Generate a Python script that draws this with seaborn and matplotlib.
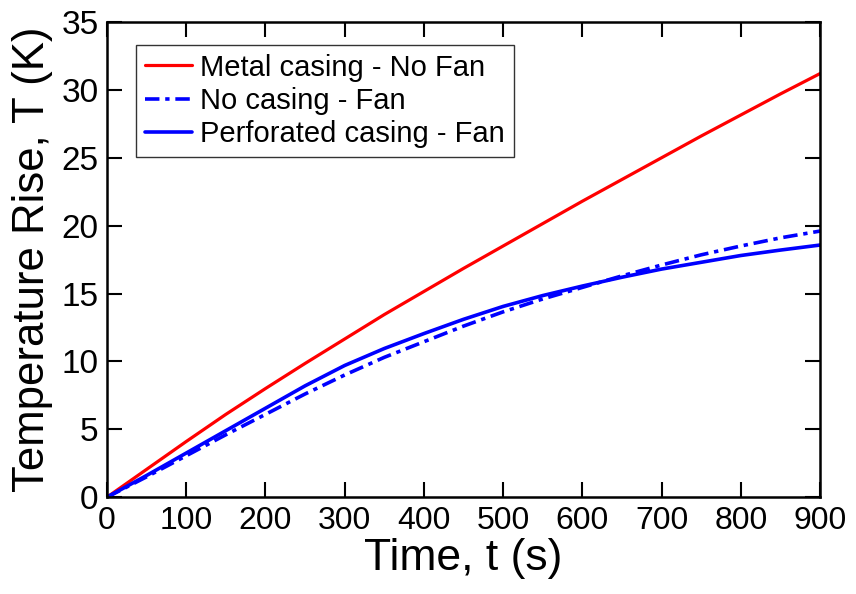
import matplotlib
matplotlib.use("Agg")
import matplotlib.pyplot as plt
import seaborn as sns
import pandas as pd

time_s = [0, 50, 100, 150, 200, 250, 300, 350, 400, 450, 500, 550, 600, 650, 700, 750, 800, 850, 900]
metal_no_fan = [0, 2.05, 4.1, 6.1, 8.0, 9.85, 11.65, 13.45, 15.15, 16.85, 18.5, 20.15, 21.8, 23.4, 25.0, 26.6, 28.15, 29.7, 31.2]
no_casing_fan = [0, 1.5, 3.05, 4.6, 6.1, 7.6, 9.0, 10.3, 11.45, 12.6, 13.65, 14.6, 15.45, 16.3, 17.1, 17.85, 18.5, 19.1, 19.6]
perforated_fan = [0, 1.6, 3.25, 4.9, 6.55, 8.2, 9.7, 10.95, 12.05, 13.1, 14.05, 14.85, 15.55, 16.2, 16.8, 17.3, 17.8, 18.2, 18.57]

labels = ["Metal casing - No Fan", "No casing - Fan", "Perforated casing - Fan"]
x_ticks = [0, 100, 200, 300, 400, 500, 600, 700, 800, 900]
y_ticks = [0, 5, 10, 15, 20, 25, 30, 35]

sns.set_style("ticks")
plt.rcParams['font.family'] = ['Liberation Sans', 'DejaVu Sans']
plt.rcParams['text.color'] = 'black'
plt.rcParams['axes.labelcolor'] = 'black'
plt.rcParams['xtick.color'] = 'black'
plt.rcParams['ytick.color'] = 'black'

fig = plt.figure(figsize=(8.56, 5.94), dpi=100)
ax = fig.add_axes([0.125, 0.163, 0.833, 0.8])

df = pd.DataFrame({"t": time_s, "a": metal_no_fan, "b": no_casing_fan, "c": perforated_fan})
sns.lineplot(data=df, x="t", y="a", ax=ax, color="#ff0000", lw=2.3, label=labels[0])
sns.lineplot(data=df, x="t", y="b", ax=ax, color="#0000ff", lw=2.6, label=labels[1])
sns.lineplot(data=df, x="t", y="c", ax=ax, color="#0000ff", lw=2.6, label=labels[2])
ax.lines[1].set_dashes((4, 1.6, 1.2, 1.6))
for ln in ax.lines:
    ln.set_solid_joinstyle('round')

ax.set_xlim(0, 900)
ax.set_ylim(0, 35)
ax.set_xticks(x_ticks)
ax.set_yticks(y_ticks)
ax.set_xticklabels([str(v) for v in x_ticks], fontsize=23)
ax.set_yticklabels([str(v) for v in y_ticks], fontsize=24)
ax.tick_params(direction='in', length=11, width=1.5, top=True, right=True, pad=6,
               colors='black')
for s in ax.spines.values():
    s.set_visible(True)
    s.set_linewidth(1.8)
    s.set_color('black')

ax.set_xlabel("Time, t (s)", fontsize=32, labelpad=2)
ax.set_ylabel("Temperature Rise, T (K)", fontsize=31.5, labelpad=6)

leg = ax.legend(loc='upper left', bbox_to_anchor=(0.041, 0.952), fontsize=21,
                frameon=True, fancybox=False, edgecolor='#333333', framealpha=1,
                handlelength=1.6, handletextpad=0.3, borderpad=0.3, labelspacing=0.18,
                borderaxespad=0)
leg.get_frame().set_linewidth(1.0)
for t in leg.get_texts():
    t.set_color('black')

fig.savefig("out.png", dpi=100)
